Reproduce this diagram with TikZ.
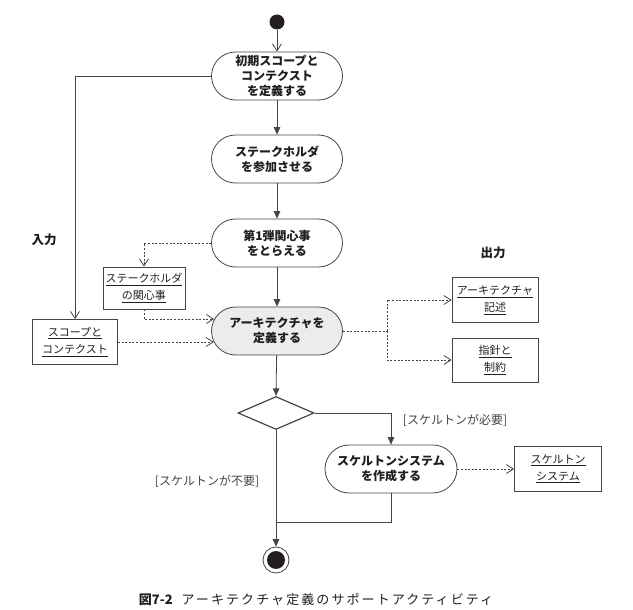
\documentclass[tikz,border=0pt]{standalone}
\usepackage{fontspec}
\newfontfamily\jp{Noto Sans CJK JP}
\usetikzlibrary{arrows.meta,shapes.geometric,calc}
\definecolor{lc}{RGB}{68,68,68}
\definecolor{tc}{RGB}{30,30,30}
\definecolor{gfill}{RGB}{236,236,236}
\definecolor{dotc}{RGB}{35,31,32}
\newcommand\actfont{\jp\bfseries\fontsize{12}{15}\selectfont}
\newcommand\objfont{\jp\fontsize{11}{17}\selectfont}
\newcommand\ulx[1]{\underline{#1}}
\tikzset{
  act/.style={draw=lc, line width=0.8pt, rounded corners=24pt, minimum width=131pt, minimum height=48pt, align=center, font=\actfont, text=tc, inner sep=0pt},
  obj/.style={draw=lc, line width=0.8pt, align=center, font=\objfont, text=tc, inner sep=0pt},
  flow/.style={draw=lc, line width=0.8pt, -{Triangle[length=7.5pt,width=6.5pt]}},
  openflow/.style={draw=lc, line width=0.8pt, -{Straight Barb[length=7pt,width=9pt]}},
  dotline/.style={draw=lc, line width=0.8pt, dash pattern=on 2pt off 1.6pt},
  dotflow/.style={dotline, -{Straight Barb[length=7pt,width=9pt]}},
  guard/.style={font=\jp\fontsize{12}{14}\selectfont, text=lc},
  heading/.style={font=\jp\bfseries\fontsize{12.5}{14}\selectfont, text=tc},
}
\begin{document}
\begin{tikzpicture}[x=1pt,y=-1pt]
\useasboundingbox (0,0) rectangle (633,610);
% activities
\node[circle, fill=dotc, minimum size=15pt, inner sep=0pt] (start) at (277,22) {};
\node[act] (a1) at (277,76) {初期スコープと\\コンテクスト\\を定義する};
\node[act] (a2) at (277,159) {ステークホルダ\\を参加させる};
\node[act] (a3) at (277,243) {第1弾関心事\\をとらえる};
\node[act, fill=gfill] (a4) at (277,331) {アーキテクチャを\\定義する};
\node[diamond, draw=lc, line width=1.2pt, minimum width=76pt, minimum height=33pt, inner sep=0pt] (d) at (276,413) {};
\node[act, minimum width=132pt] (a5) at (391,469) {スケルトンシステム\\を作成する};
\node[circle, draw=lc, line width=0.8pt, minimum size=26pt, inner sep=0pt] (end) at (276,560) {};
\fill[dotc] (end.center) circle (9pt);
% objects
\node[obj, minimum width=85pt, minimum height=45pt] (o1) at (75,342) {\ulx{スコープと}\\\ulx{コンテクスト}};
\node[obj, minimum width=82pt, minimum height=42pt] (o2) at (144,288) {\ulx{ステークホルダ}\\\ulx{の関心事}};
\node[obj, minimum width=86pt, minimum height=45pt] (o3) at (495,300) {\ulx{アーキテクチャ}\\\ulx{記述}};
\node[obj, minimum width=86pt, minimum height=44pt] (o4) at (495,360) {\ulx{指針と}\\\ulx{制約}};
\node[obj, minimum width=87pt, minimum height=45pt] (o5) at (558,469) {\ulx{スケルトン}\\\ulx{システム}};
% labels
\node[heading] (lin) at (44,240) {入力};
\node[heading] (lout) at (493,253) {出力};
\node[guard] (g1) at (455,420) {[スケルトンが必要]};
\node[guard] (g2) at (207,481) {[スケルトンが不要]};
\node[font=\jp\fontsize{13}{15}\selectfont, text=tc] (cap) at (316,600) {{\bfseries 図7-2}\hspace{9pt}{\addfontfeature{LetterSpace=16}アーキテクチャ定義のサポートアクティビティ}};
% control flow
\draw[openflow] (start) -- (a1);
\draw[flow] (a1) -- (a2);
\draw[flow] (a2) -- (a3);
\draw[flow] (a3) -- (a4);
\draw[flow] (a4) -- (d.north);
\draw[flow] (d.east) -| (a5.north);
\coordinate (j) at (276,522);
\draw[draw=lc, line width=0.8pt] (a5.south) |- (j);
\draw[flow] (d.south) -- (end.north);
% object flow
\draw[openflow] (a1.west) -| (o1.north);
\draw[dotflow] (a3.west) -| (o2.north);
\draw[dotflow] (o2.south) |- ([shift={(3,-12)}]a4.west);
\draw[dotflow] (o1.east) -- ([shift={(2.7,11)}]a4.west);
\coordinate (br) at (387,331);
\draw[dotline] (a4.east) -- (br);
\draw[dotflow] (br) |- (o3.west);
\draw[dotflow] (br) |- (o4.west);
\draw[dotflow] (a5.east) -- (o5.west);
\end{tikzpicture}
\end{document}
